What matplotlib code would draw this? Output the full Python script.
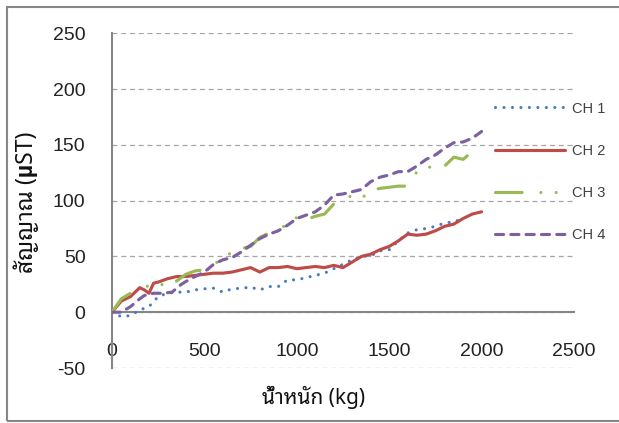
import matplotlib
matplotlib.use("Agg")
import matplotlib.pyplot as plt
from matplotlib import font_manager, ft2font
from matplotlib.patches import Rectangle

# ---------------- data ----------------
ch1_x = [0, 50, 100, 150, 200, 250, 300, 350, 400, 450, 500, 550, 600, 650, 700, 750, 800, 850,
         900, 950, 1000, 1050, 1100, 1150, 1200, 1250, 1300, 1350, 1400, 1450, 1500, 1550, 1600,
         1650, 1700, 1750, 1800, 1850, 1900]
ch1_y = [0, -4, -3, 2, 5, 14, 17, 18, 18, 20, 21, 21.5, 18, 21, 21.5, 22.5, 20, 23,
         23, 29, 29, 31, 33, 35, 39, 43, 47, 50, 50.5, 55, 56, 64, 71,
         74, 75, 77, 80, 81, 84]

ch2_x = [0, 50, 100, 150, 175, 200, 225, 250, 300, 350, 400, 450, 500, 550, 600, 650, 700, 750,
         800, 850, 900, 950, 1000, 1050, 1100, 1150, 1200, 1250, 1300, 1350, 1400, 1450, 1500,
         1550, 1600, 1650, 1700, 1750, 1800, 1850, 1900, 1950, 2000]
ch2_y = [0, 10, 14, 22, 20, 17, 26, 27, 30, 32, 32, 33, 34, 35, 35, 36, 38, 40,
         36, 40, 40, 41, 39, 40, 41, 40, 42, 40, 45, 50, 52, 56, 59,
         64, 70, 69, 70, 73, 77, 79, 84, 88, 90]

ch3_x = [0, 50, 100, 150, 200, 250, 300, 350, 400, 450, 500, 550, 600, 650, 700, 750, 800, 850,
         900, 950, 1000, 1050, 1100, 1150, 1200, 1250, 1300, 1350, 1400, 1450, 1500, 1550, 1600,
         1650, 1700, 1750, 1800, 1850, 1900, 1950, 2000]
ch3_y = [0, 12, 17, 20, 24, 26, 23, 28, 34, 37, 38, 43, 48, 54, 57, 59, 67, 71,
         74, 79, 85, 83, 86, 88, 97, 103, 104, 102, 109, 111, 112, 113, 113,
         126, 130, 130, 131, 139, 137, 144, 147]

ch4_x = [0, 50, 100, 150, 175, 225, 275, 325, 375, 425, 500, 550, 600, 650, 700, 750, 800, 850,
         900, 950, 1000, 1050, 1100, 1150, 1200, 1250, 1300, 1350, 1400, 1450, 1500, 1550, 1600,
         1650, 1700, 1750, 1800, 1850, 1900, 1950, 2000]
ch4_y = [0, 0, 5, 12, 15, 17, 17, 18, 25, 30, 36, 43, 47, 49, 54, 60, 66, 70,
         73, 78, 84, 87, 90, 96, 105, 106, 108, 110, 117, 121, 123, 126, 126,
         131, 137, 141, 147, 152, 152.6, 156, 162]

series_names = ["CH 1", "CH 2", "CH 3", "CH 4"]
x_ticks = [0, 500, 1000, 1500, 2000, 2500]
y_ticks = [-50, 0, 50, 100, 150, 200, 250]
x_label = "น้ำหนัก (kg)"
y_label = "สัญญาณ (µST)"

# ---------------- fonts ----------------
def thai_fonts():
    found = []
    for f in font_manager.fontManager.ttflist:
        try:
            cm = ft2font.FT2Font(f.fname).get_charmap()
        except Exception:
            continue
        if 0x0E2A in cm:
            found.append(f.name)
    return sorted(set(found))

thai = thai_fonts()
prefs = ["Noto Sans Thai Looped", "IBM Plex Sans Thai Looped", "Noto Sans Thai",
         "Sarabun", "IBM Plex Sans Thai"]
chosen = [p for p in prefs if p in thai] + thai
base_font = "Liberation Sans"
label_family = chosen[:1] + [base_font, "DejaVu Sans"]
plt.rcParams["font.family"] = [base_font, "DejaVu Sans"]
plt.rcParams["axes.unicode_minus"] = False

txt_color = "#404040"
grid_color = "#A6A6A6"
axis_color = "#868686"

W, H = 619, 423
fig = plt.figure(figsize=(W / 100, H / 100), dpi=100)
ax = fig.add_axes([112 / W, 1 - 368 / H, (574 - 112) / W, (368 - 33.3) / H])

lw = 2.25
ax.plot(ch1_x, ch1_y, color="#4A7EBB", lw=lw, linestyle=(0, (0.01, 2.7)),
        dash_capstyle="round", label=series_names[0], zorder=3)
ax.plot(ch2_x, ch2_y, color="#BE4B48", lw=lw, solid_capstyle="round",
        label=series_names[1], zorder=3)
ax.plot(ch3_x, ch3_y, color="#98B954", lw=lw, linestyle=(0, (8.5, 6.0, 0.01, 4.9, 0.01, 5.2)),
        dash_capstyle="round", label=series_names[2], zorder=3)
ax.plot(ch4_x, ch4_y, color="#7D60A0", lw=lw, linestyle=(0, (2.6, 2.3)),
        dash_capstyle="round", label=series_names[3], zorder=3)

ax.set_xlim(0, 2500)
ax.set_ylim(-50, 250)
ax.set_xticks(x_ticks)
ax.set_yticks(y_ticks)
ax.grid(axis="y", color=grid_color, linestyle=(0, (4, 3)), lw=0.9, zorder=0)
for s in ("top", "right"):
    ax.spines[s].set_visible(False)
ax.spines["bottom"].set_position(("data", 0))
ax.spines["bottom"].set_color(axis_color)
ax.spines["bottom"].set_linewidth(1.5)
ax.spines["left"].set_color(axis_color)
ax.spines["left"].set_linewidth(1.5)
ax.tick_params(axis="both", length=0, labelsize=14, labelcolor="#222222")
ax.tick_params(axis="y", pad=19)
ax.tick_params(axis="x", pad=22)

fig.text(26 / W, 1 - 202 / H, y_label, rotation=90, ha="center", va="center",
         fontsize=16.5, fontweight="bold", color="#111111", family=label_family)
fig.text(314 / W, 1 - 397 / H, x_label, ha="center", va="center",
         fontsize=15, fontweight="bold", color="#111111", family=label_family)

leg = fig.legend(loc="center left", bbox_to_anchor=(495 / W, 1 - 172 / H),
                 frameon=False, fontsize=10.5, handlelength=4.8, handletextpad=0.5,
                 labelspacing=1.94, borderpad=0, borderaxespad=0)
for t in leg.get_texts():
    t.set_color(txt_color)

fig.patches.append(Rectangle((7 / W, 1 - 420.5 / H), 1.2, (420.5 - 7) / H,
                             transform=fig.transFigure, fill=False,
                             edgecolor=axis_color, lw=1.5))

fig.savefig("out.png", dpi=100)
